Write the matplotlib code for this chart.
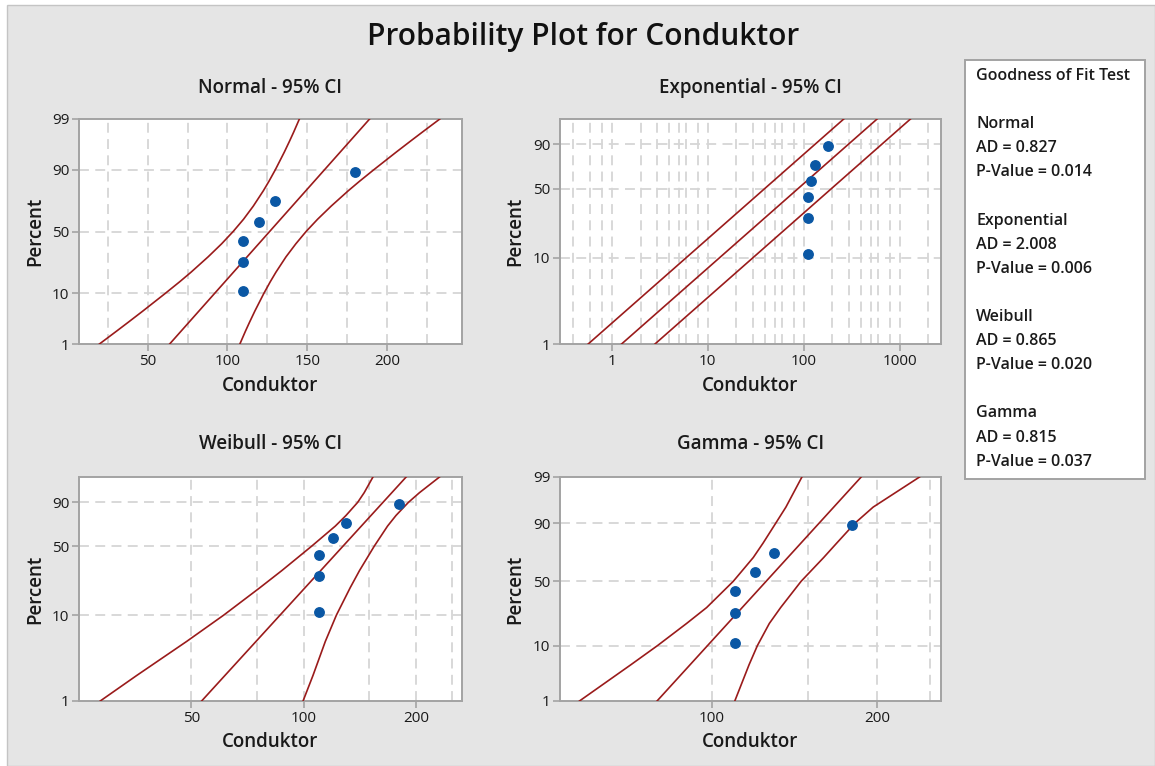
import math
import numpy as np
import matplotlib
matplotlib.use("Agg")
import matplotlib.pyplot as plt
from matplotlib.patches import Rectangle

# ---------------- data ----------------
conduktor = [110, 110, 110, 120, 130, 180]
plot_percent = [10.9, 26.6, 42.2, 57.8, 73.4, 89.1]

fit_percent = [1, 99]

# Normal panel
normal_levels = [1, 2, 3, 5, 10, 15, 20, 30, 40, 50, 60, 70, 80, 85, 90, 95, 97, 98, 99]
normal_fit = [63.8, 189.1]
normal_lower = [19.8, 30.8, 37.7, 47.0, 61.0, 70.2, 77.2, 87.9, 96.4, 103.6, 110.1,
                116.2, 122.5, 126.0, 130.1, 135.7, 139.1, 141.5, 145.1]
normal_upper = [107.8, 111.4, 113.8, 117.2, 122.8, 126.9, 130.4, 136.7, 142.9, 149.3, 156.5,
                165.0, 175.7, 182.7, 191.9, 205.9, 215.2, 222.1, 233.1]

# Exponential panel
exp_fit = [1.27, 583]
exp_lower = [0.57, 262]
exp_upper = [2.83, 1298]

# Weibull panel
weib_levels = [1, 2, 5, 10, 20, 30, 50, 70, 80, 90, 95, 99]
weib_fit = [53.3, 188.4]
weib_lower = [28.5, 35.7, 48.6, 61.1, 76.4, 87.5, 105.1, 121.7, 130.0, 139.7, 145.4, 153.5]
weib_upper = [99.7, 106.0, 114.4, 122.5, 133.4, 141.3, 154.7, 168.0, 177.0, 191.1, 204.5, 231.5]

# Gamma panel
gam_levels = [1, 5, 10, 20, 30, 50, 70, 80, 90, 95, 99]
gam_fit = [79.4, 187.3]
gam_lower = [57.3, 71.1, 79.6, 89.9, 97.8, 109.4, 119.0, 124.0, 130.8, 136.5, 146.0]
gam_upper = [110.1, 116.9, 121.1, 127.3, 133.5, 145.5, 160.0, 169.0, 182.5, 197.0, 239.4]

# Goodness of fit table
gof_names = ["Normal", "Exponential", "Weibull", "Gamma"]
gof_ad = ["0.827", "2.008", "0.865", "0.815"]
gof_p = ["0.014", "0.006", "0.020", "0.037"]

# ---------------- scales ----------------
_zz = np.linspace(-7, 7, 14001)
_erf = np.vectorize(math.erf)
_cc = 0.5 * (1.0 + _erf(_zz / math.sqrt(2.0)))


def norm_fwd(p):
    p = np.asarray(p, dtype=float) / 100.0
    return np.interp(p, _cc, _zz)


def norm_inv(z):
    return 100.0 * np.interp(np.asarray(z, dtype=float), _zz, _cc)


def weib_fwd(p):
    p = np.clip(np.asarray(p, dtype=float) / 100.0, 1e-12, 1 - 1e-12)
    return np.log(-np.log(1.0 - p))


def weib_inv(w):
    w = np.clip(np.asarray(w, dtype=float), -30, 3.5)
    return 100.0 * (1.0 - np.exp(-np.exp(w)))


# gamma probability axis: tick spacing as drawn (log-gamma quantile scale)
_gz = norm_fwd([1, 10, 50, 90, 99])
_gpos = np.array([0.0, 166.0, 358.0, 532.0, 670.0]) / 144.0
_gz_ext = np.concatenate([[-7.0], _gz, [7.0]])
_s0 = (_gpos[1] - _gpos[0]) / (_gz[1] - _gz[0])
_s1 = (_gpos[-1] - _gpos[-2]) / (_gz[-1] - _gz[-2])
_gpos_ext = np.concatenate([[_gpos[0] - _s0 * (_gz[0] + 7.0)], _gpos,
                            [_gpos[-1] + _s1 * (7.0 - _gz[-1])]])


def gam_fwd(p):
    return np.interp(norm_fwd(p), _gz_ext, _gpos_ext)


def gam_inv(y):
    return norm_inv(np.interp(np.asarray(y, dtype=float), _gpos_ext, _gz_ext))


# ---------------- figure ----------------
W, H = 1155, 766
plt.rcParams['font.family'] = ['Open Sans', 'DejaVu Sans']
fig = plt.figure(figsize=(W / 100, H / 100), dpi=100)
fig.patch.set_facecolor('white')
fig.patches.append(Rectangle((7 / W, 0), 1 - 7 / W, 1 - 5 / H, transform=fig.transFigure,
                             facecolor='#e5e5e5', edgecolor='#c4c4c4', lw=1.0, zorder=-10))


def fx(x):
    return x / W


def fy(y):
    return 1 - y / H


def make_axes(left, top, right, bottom):
    return fig.add_axes([fx(left), fy(bottom), (right - left) / W, (bottom - top) / H])


GRID = dict(color='#d6d6d6', lw=1.3, linestyle=(0, (5.5, 3.5)), zorder=0)
CI_COLOR = '#9a1b1b'
PT_COLOR = '#0a57a4'
SPINE = '#a3a3a3'


def style(ax, title, title_xy, ylab_x, xlab_y):
    for s in ax.spines.values():
        s.set_color(SPINE)
        s.set_linewidth(1.4)
    ax.tick_params(which='major', direction='out', length=5, width=1.2, color=SPINE,
                   labelsize=11, labelcolor='#1a1a1a', pad=2)
    ax.tick_params(which='minor', length=0)
    cx = (ax.get_position().x0 + ax.get_position().x1) / 2
    cy = (ax.get_position().y0 + ax.get_position().y1) / 2
    fig.text(cx, fy(title_xy), title, ha='center', va='center', fontsize=13.5,
             fontweight='semibold', color='#1a1a1a')
    fig.text(fx(ylab_x), cy, 'Percent', ha='center', va='center', rotation=90,
             fontsize=13.5, fontweight='semibold', color='#1a1a1a')
    fig.text(cx, fy(xlab_y), 'Conduktor', ha='center', va='center', fontsize=13.5,
             fontweight='semibold', color='#1a1a1a')


def draw(ax, levels_ci, lo, fit, hi):
    ax.plot(lo, levels_ci, color=CI_COLOR, lw=1.2, zorder=3)
    ax.plot(hi, levels_ci, color=CI_COLOR, lw=1.2, zorder=3)
    ax.plot(fit, fit_percent, color=CI_COLOR, lw=1.2, zorder=3)
    ax.plot(conduktor, plot_percent, 'o', color=PT_COLOR, ms=6.8, mec=PT_COLOR, zorder=4)


# ---- Normal ----
ax1 = make_axes(79, 119, 462, 344)
ax1.set_yscale('function', functions=(norm_fwd, norm_inv))
ax1.set_xlim(7, 247)
ax1.set_ylim(1, 99)
for v in [25, 50, 75, 100, 125, 150, 175, 200, 225]:
    ax1.axvline(v, **GRID)
for v in [10, 50, 90]:
    ax1.axhline(v, **GRID)
ax1.set_xticks([50, 100, 150, 200], labels=['50', '100', '150', '200'])
ax1.set_xticks([], minor=True)
ax1.set_yticks([1, 10, 50, 90, 99], labels=['1', '10', '50', '90', '99'])
ax1.set_yticks([], minor=True)
draw(ax1, normal_levels, normal_lower, normal_fit, normal_upper)
style(ax1, 'Normal - 95% CI', 88, 35, 386)

# ---- Exponential ----
ax2 = make_axes(560, 119, 941, 344)
ax2.set_xscale('log')
ax2.set_yscale('function', functions=(weib_fwd, weib_inv))
ax2.set_xlim(0.29, 2700)
ax2.set_ylim(1, 99)
exp_grid = [m * d for d in [0.1, 1, 10, 100, 1000] for m in (2, 3, 4, 5, 6, 8)]
exp_grid = [v for v in exp_grid if 0.35 < v < 2700 and abs(v - 0.5) > 1e-9]
for v in exp_grid + [1, 10, 100, 1000]:
    ax2.axvline(v, **GRID)
for v in [10, 50, 90]:
    ax2.axhline(v, **GRID)
ax2.set_xticks([1, 10, 100, 1000], labels=['1', '10', '100', '1000'])
ax2.set_xticks([], minor=True)
ax2.set_yticks([1, 10, 50, 90], labels=['1', '10', '50', '90'])
ax2.set_yticks([], minor=True)
draw(ax2, fit_percent, exp_lower, exp_fit, exp_upper)
style(ax2, 'Exponential - 95% CI', 88, 515, 386)

# ---- Weibull ----
ax3 = make_axes(79, 477, 462, 701)
ax3.set_xscale('log')
ax3.set_yscale('function', functions=(weib_fwd, weib_inv))
ax3.set_xlim(25, 266)
ax3.set_ylim(1, 99)
for v in [50, 75, 100, 150, 200, 250]:
    ax3.axvline(v, **GRID)
for v in [10, 50, 90]:
    ax3.axhline(v, **GRID)
ax3.set_xticks([50, 100, 200], labels=['50', '100', '200'])
ax3.set_xticks([], minor=True)
ax3.set_yticks([1, 10, 50, 90], labels=['1', '10', '50', '90'])
ax3.set_yticks([], minor=True)
draw(ax3, weib_levels, weib_lower, weib_fit, weib_upper)
style(ax3, 'Weibull - 95% CI', 444, 35, 742)

# ---- Gamma ----
ax4 = make_axes(560, 477, 941, 701)
ax4.set_xscale('log')
ax4.set_yscale('function', functions=(gam_fwd, gam_inv))
ax4.set_xlim(52.8, 262)
ax4.set_ylim(1, 99)
for v in [100, 150, 200, 250]:
    ax4.axvline(v, **GRID)
for v in [10, 50, 90]:
    ax4.axhline(v, **GRID)
ax4.set_xticks([100, 200], labels=['100', '200'])
ax4.set_xticks([], minor=True)
ax4.set_yticks([1, 10, 50, 90, 99], labels=['1', '10', '50', '90', '99'])
ax4.set_yticks([], minor=True)
draw(ax4, gam_levels, gam_lower, gam_fit, gam_upper)
style(ax4, 'Gamma - 95% CI', 444, 515, 742)

# ---- main title ----
fig.text(fx(583), fy(37), 'Probability Plot for Conduktor', ha='center', va='center',
         fontsize=21.5, fontweight='semibold', color='#111111')

# ---- goodness of fit box ----
fig.patches.append(Rectangle((fx(965), fy(479)), (1145 - 965) / W, (479 - 60) / H,
                             transform=fig.transFigure, facecolor='white',
                             edgecolor='#a3a3a3', lw=1.4, zorder=1))
lines = ['Goodness of Fit Test', '']
for n, a, p in zip(gof_names, gof_ad, gof_p):
    lines += [n, 'AD = ' + a, 'P-Value = ' + p, '']
y0, dy = 76, 24.1
for i, t in enumerate(lines):
    if t:
        fig.text(fx(976), fy(y0 + i * dy), t, ha='left', va='center', fontsize=11.5,
                 fontweight='semibold', color='#1a1a1a', zorder=2)

fig.savefig('out.png', dpi=100, facecolor='white')
